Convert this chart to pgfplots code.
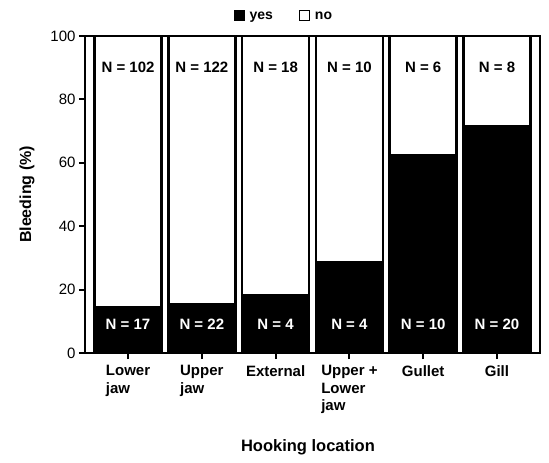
\documentclass[border=0pt]{standalone}
\usepackage{fontspec}
\setmainfont{Liberation Sans}
\usepackage{pgfplots}
\pgfplotsset{compat=1.18}
\begin{document}
\begin{tikzpicture}
\useasboundingbox (-85pt,-110pt) rectangle (464pt,353pt);
\begin{axis}[
  scale only axis, width=455pt, height=317pt,
  ybar stacked, bar width=67pt,
  xmin=-0.583, xmax=5.583, ymin=0, ymax=100,
  xtick={0,1,2,3,4,5},
  xticklabels={Lower\\jaw, Upper\\jaw, External, Upper +\\Lower\\jaw, Gullet, Gill},
  xticklabel style={align=left, font=\fontsize{15}{17.5}\selectfont\bfseries, anchor=north, yshift=-3pt},
  ytick={0,20,40,60,80,100},
  yticklabel style={font=\fontsize{15}{18}\selectfont},
  /pgf/number format/assume math mode=true,
  tick align=outside, xtick pos=bottom, ytick pos=left,
  major tick length=6pt,
  tick style={black, line width=2pt},
  axis line style={line width=2.5pt},
  axis on top,
  xlabel={Hooking location},
  xlabel style={at={(axis description cs:0.49,-0.297)}, anchor=center, font=\fontsize{16.5}{18}\selectfont\bfseries},
  ylabel={Bleeding (\%)},
  ylabel style={at={(axis description cs:-0.1275,0.5)}, anchor=center, font=\fontsize{16}{18}\selectfont\bfseries},
  legend style={at={(0.437,1.035)}, anchor=south, draw=none, fill=none, legend columns=2,
    font=\fontsize{14}{16}\selectfont\bfseries,
    /tikz/every odd column/.append style={column sep=3pt},
    /tikz/every even column/.append style={column sep=24pt}},
  legend image code/.code={\draw[#1, line width=1pt] (0pt,-4pt) rectangle (10pt,6pt);},
]
\addplot[fill=black, draw=black, line width=2.5pt] coordinates {(0,14.29) (1,15.28) (2,18.18) (3,28.57) (4,62.5) (5,71.43)};
\addplot[fill=white, draw=black, line width=2.5pt] coordinates {(0,85.71) (1,84.72) (2,81.82) (3,71.43) (4,37.5) (5,28.57)};
\legend{yes, no}
\coordinate (t0) at (axis cs:0,90);
\coordinate (t1) at (axis cs:1,90);
\coordinate (t2) at (axis cs:2,90);
\coordinate (t3) at (axis cs:3,90);
\coordinate (t4) at (axis cs:4,90);
\coordinate (t5) at (axis cs:5,90);
\coordinate (b0) at (axis cs:0,9);
\coordinate (b1) at (axis cs:1,9);
\coordinate (b2) at (axis cs:2,9);
\coordinate (b3) at (axis cs:3,9);
\coordinate (b4) at (axis cs:4,9);
\coordinate (b5) at (axis cs:5,9);
\end{axis}
\begin{scope}[every node/.style={font=\fontsize{15}{18}\selectfont\bfseries}]
\node at (t0) {N = 102};
\node at (t1) {N = 122};
\node at (t2) {N = 18};
\node at (t3) {N = 10};
\node at (t4) {N = 6};
\node at (t5) {N = 8};
\node[white] at (b0) {N = 17};
\node[white] at (b1) {N = 22};
\node[white] at (b2) {N = 4};
\node[white] at (b3) {N = 4};
\node[white] at (b4) {N = 10};
\node[white] at (b5) {N = 20};
\end{scope}
\end{tikzpicture}
\end{document}
